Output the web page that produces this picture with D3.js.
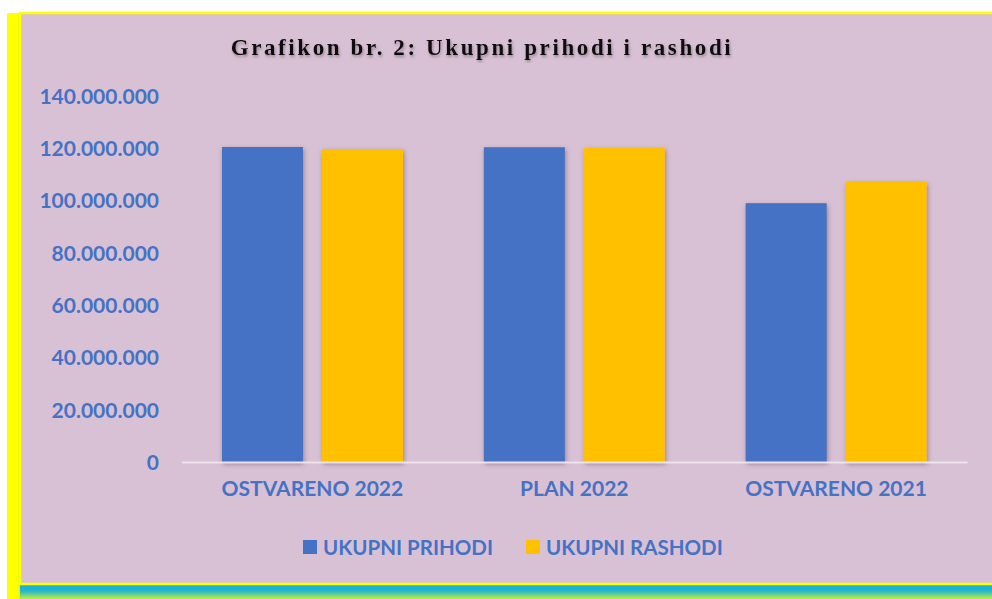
<!DOCTYPE html>
<html lang="hr">
<head>
<meta charset="utf-8">
<title>Grafikon br. 2</title>
<script src="https://d3js.org/d3.v7.min.js"></script>
<style>
  body { margin: 0; background: #fff; }
  svg { display: block; }
  .lbl { font-family: 'Lato', sans-serif; font-weight: bold; fill: #4472C4; }
</style>
</head>
<body>
<svg id="chart" width="992" height="599"></svg>
<script>
// data
var categories = ["OSTVARENO 2022", "PLAN 2022", "OSTVARENO 2021"];
var series = ["UKUPNI PRIHODI", "UKUPNI RASHODI"];
var prihodi = [120500000, 120400000, 99000000];
var rashodi = [119700000, 120100000, 107100000];
var yTicks = [0, 20000000, 40000000, 60000000, 80000000, 100000000, 120000000, 140000000];
var colors = ["#4472C4", "#FFC000"];

var svg = d3.select("#chart");
var defs = svg.append("defs");

var sh = defs.append("filter").attr("id", "barShadow")
  .attr("x", "-20%").attr("y", "-10%").attr("width", "140%").attr("height", "120%");
sh.append("feDropShadow").attr("dx", 1).attr("dy", 2).attr("stdDeviation", 2.5)
  .attr("flood-color", "#5a4858").attr("flood-opacity", 0.55);

var tsh = defs.append("filter").attr("id", "titleShadow");
tsh.append("feDropShadow").attr("dx", 1).attr("dy", 2).attr("stdDeviation", 1.5)
  .attr("flood-color", "#6a5a68").attr("flood-opacity", 0.6);

var grad = defs.append("linearGradient").attr("id", "bottomGrad")
  .attr("x1", 0).attr("y1", 0).attr("x2", 0).attr("y2", 1);
grad.append("stop").attr("offset", "0%").attr("stop-color", "#0fb2e4");
grad.append("stop").attr("offset", "45%").attr("stop-color", "#28b8c8");
grad.append("stop").attr("offset", "100%").attr("stop-color", "#c6ef3c");

var gradL = defs.append("linearGradient").attr("id", "leftGrad")
  .attr("x1", 0).attr("y1", 0).attr("x2", 1).attr("y2", 0);
gradL.append("stop").attr("offset", "0%").attr("stop-color", "#ffff00");
gradL.append("stop").attr("offset", "75%").attr("stop-color", "#ffff00");
gradL.append("stop").attr("offset", "100%").attr("stop-color", "#c8ee30");

// frame: shadow strips + pink area with yellow border
svg.append("rect").attr("x", 7).attr("y", 13).attr("width", 14).attr("height", 586)
  .attr("fill", "url(#leftGrad)");
svg.append("rect").attr("x", 20).attr("y", 585).attr("width", 972).attr("height", 14)
  .attr("fill", "url(#bottomGrad)");
svg.append("rect").attr("x", 20).attr("y", 13).attr("width", 980).attr("height", 571)
  .attr("fill", "#D9C1D5").attr("stroke", "#ffff00").attr("stroke-width", 2.5);

// title
svg.append("text")
  .attr("x", 482).attr("y", 55)
  .attr("text-anchor", "middle")
  .attr("font-family", "'Liberation Serif', serif")
  .attr("font-weight", "bold")
  .attr("font-size", "23px")
  .attr("letter-spacing", "2.6px")
  .attr("fill", "#111")
  .attr("filter", "url(#titleShadow)")
  .text("Grafikon br. 2: Ukupni prihodi i rashodi");

// scales
var y = d3.scaleLinear().domain([0, 140000000]).range([462, 96]);
var x0 = d3.scaleBand().domain(categories).range([181.5, 967]).padding(0);
var x1 = d3.scaleBand().domain(series).range([40.5, 221.5]).paddingInner(0.19).paddingOuter(0);

var fmt = function(v) { return d3.format(",")(v).replace(/,/g, "."); };

// y axis labels
var yAxis = d3.axisLeft(y).tickValues(yTicks).tickSize(0).tickPadding(0).tickFormat(fmt);
var gy = svg.append("g").attr("transform", "translate(159,0)").call(yAxis);
gy.select(".domain").remove();
gy.selectAll("text").attr("class", "lbl").attr("font-size", "21px").attr("dy", "0.35em");

// bars
var rows = categories.map(function(c, i) { return { cat: c, vals: [prihodi[i], rashodi[i]] }; });
var grp = svg.append("g").selectAll("g").data(rows).enter().append("g")
  .attr("transform", function(d) { return "translate(" + x0(d.cat) + ",0)"; });
grp.selectAll("rect").data(function(d) {
    return d.vals.map(function(v, j) { return { s: series[j], v: v, c: colors[j] }; });
  }).enter().append("rect")
  .attr("x", function(d) { return x1(d.s); })
  .attr("width", x1.bandwidth())
  .attr("y", function(d) { return y(d.v); })
  .attr("height", function(d) { return y(0) - y(d.v); })
  .attr("fill", function(d) { return d.c; })
  .attr("filter", "url(#barShadow)");

// x axis
var xAxis = d3.axisBottom(x0).tickSize(0).tickPadding(0);
var gx = svg.append("g").attr("transform", "translate(0," + y(0) + ")").call(xAxis);
gx.select(".domain").attr("stroke", "#ece4ea").attr("stroke-width", 2);
gx.selectAll("text").attr("class", "lbl").attr("font-size", "21px").attr("dy", "1.62em");

// legend
var leg = svg.append("g").attr("transform", "translate(303,540)");
var legX = [0, 223];
series.forEach(function(s, i) {
  var g = leg.append("g").attr("transform", "translate(" + legX[i] + ",0)");
  g.append("rect").attr("width", 14).attr("height", 14).attr("fill", colors[i]);
  g.append("text").attr("class", "lbl").attr("x", 20).attr("y", 14.5)
    .attr("font-size", "20.5px").text(s);
});
</script>
</body>
</html>
